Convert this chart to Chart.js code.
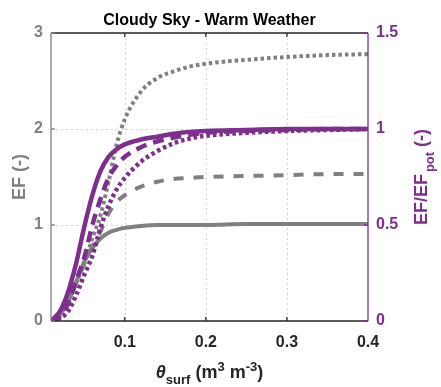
<!DOCTYPE html>
<html>
<head>
<meta charset="utf-8">
<script src="https://cdn.jsdelivr.net/npm/chart.js@4/dist/chart.umd.min.js"></script>
<style>
  html, body { margin: 0; padding: 0; background: #ffffff; }
  #wrap { width: 441px; height: 387px; position: relative; }
</style>
</head>
<body>
<div id="wrap"><canvas id="c" width="441" height="387"></canvas></div>
<script>
// ---- data ----
const thetaSurf = [0.009, 0.02, 0.03, 0.04, 0.05, 0.06, 0.07, 0.08, 0.09, 0.10, 0.12, 0.14, 0.16, 0.18, 0.20, 0.25, 0.30, 0.35, 0.40];

// EF (left axis, gray)
const efSolid  = [0, 0.07, 0.20, 0.40, 0.62, 0.76, 0.86, 0.92, 0.95, 0.97, 0.99, 1.00, 1.00, 1.00, 1.00, 1.01, 1.01, 1.01, 1.01];
const efDashed = [0, 0.07, 0.20, 0.40, 0.60, 0.78, 0.93, 1.12, 1.24, 1.31, 1.40, 1.45, 1.48, 1.49, 1.50, 1.51, 1.52, 1.53, 1.53];
const efDotted = [0, 0.07, 0.20, 0.40, 0.60, 0.86, 1.10, 1.45, 1.84, 2.10, 2.39, 2.53, 2.60, 2.65, 2.68, 2.72, 2.75, 2.77, 2.78];

// EF/EFpot (right axis, purple)
const ratioSolid  = [0, 0.05, 0.15, 0.30, 0.49, 0.655, 0.78, 0.855, 0.895, 0.92, 0.945, 0.96, 0.975, 0.985, 0.99, 0.995, 1.0, 1.0, 1.0];
const ratioDashed = [0, 0.025, 0.09, 0.21, 0.33, 0.50, 0.635, 0.745, 0.81, 0.855, 0.905, 0.935, 0.955, 0.97, 0.98, 0.99, 0.995, 1.0, 1.0];
const ratioDotted = [0, 0.015, 0.05, 0.135, 0.24, 0.34, 0.485, 0.60, 0.685, 0.745, 0.83, 0.885, 0.925, 0.95, 0.965, 0.98, 0.99, 0.995, 1.0];

const xTicks = [0.1, 0.2, 0.3, 0.4];
const xTickLabels = ['0.1', '0.2', '0.3', '0.4'];
const yLeftTicks = [0, 1, 2, 3];
const yLeftTickLabels = ['0', '1', '2', '3'];
const yRightTicks = [0, 0.5, 1, 1.5];
const yRightTickLabels = ['0', '0.5', '1', '1.5'];

const titleText = 'Cloudy Sky - Warm Weather';

// ---- styling ----
const GRAY = '#808080';
const PURPLE = '#7E2F8E';
const DARK = '#262626';
const FONT = '"Liberation Sans", Arial, Helvetica, sans-serif';

function pts(ys) { return thetaSurf.map((x, i) => ({ x: x, y: ys[i] })); }

function ds(label, ys, color, width, dash, axis) {
  return {
    label: label, data: pts(ys), yAxisID: axis,
    borderColor: color, backgroundColor: color, borderWidth: width,
    borderDash: dash, borderCapStyle: 'butt', borderJoinStyle: 'round',
    pointRadius: 0, pointHoverRadius: 0, fill: false,
    cubicInterpolationMode: 'monotone'
  };
}

const decor = {
  id: 'decor',
  beforeDatasetsDraw(chart) {
    const ctx = chart.ctx, a = chart.chartArea;
    const sx = chart.scales.x, yl = chart.scales.y;
    ctx.save();
    ctx.strokeStyle = '#d4d4d4';
    ctx.lineWidth = 1;
    ctx.setLineDash([2, 3]);
    xTicks.forEach(v => {
      const px = Math.round(sx.getPixelForValue(v)) + 0.5;
      if (px > a.right - 2) return;
      ctx.beginPath(); ctx.moveTo(px, a.top); ctx.lineTo(px, a.bottom); ctx.stroke();
    });
    yLeftTicks.forEach(v => {
      const py = Math.round(yl.getPixelForValue(v)) + 0.5;
      if (py < a.top + 2 || py > a.bottom - 2) return;
      ctx.beginPath(); ctx.moveTo(a.left, py); ctx.lineTo(a.right, py); ctx.stroke();
    });
    ctx.restore();
  },
  afterDatasetsDraw(chart) {
    const ctx = chart.ctx, a = chart.chartArea;
    const sx = chart.scales.x, yl = chart.scales.y, yr = chart.scales.y2;
    ctx.save();
    ctx.setLineDash([]);
    ctx.lineWidth = 1.3;
    ctx.strokeStyle = DARK;
    ctx.beginPath(); ctx.moveTo(a.left, a.top); ctx.lineTo(a.right, a.top); ctx.stroke();
    ctx.beginPath(); ctx.moveTo(a.left, a.bottom); ctx.lineTo(a.right, a.bottom); ctx.stroke();
    xTicks.forEach(v => {
      const px = sx.getPixelForValue(v);
      if (px > a.right - 2) return;
      ctx.beginPath(); ctx.moveTo(px, a.bottom); ctx.lineTo(px, a.bottom - 4); ctx.stroke();
      ctx.beginPath(); ctx.moveTo(px, a.top); ctx.lineTo(px, a.top + 4); ctx.stroke();
    });
    ctx.strokeStyle = GRAY;
    ctx.beginPath(); ctx.moveTo(a.left, a.top); ctx.lineTo(a.left, a.bottom); ctx.stroke();
    yLeftTicks.forEach(v => {
      const py = yl.getPixelForValue(v);
      ctx.beginPath(); ctx.moveTo(a.left, py); ctx.lineTo(a.left + 4, py); ctx.stroke();
    });
    ctx.strokeStyle = PURPLE;
    ctx.beginPath(); ctx.moveTo(a.right, a.top); ctx.lineTo(a.right, a.bottom); ctx.stroke();
    yRightTicks.forEach(v => {
      const py = yr.getPixelForValue(v);
      ctx.beginPath(); ctx.moveTo(a.right, py); ctx.lineTo(a.right - 4, py); ctx.stroke();
    });

    // title
    ctx.fillStyle = '#000000';
    ctx.font = 'bold 16px ' + FONT;
    ctx.textAlign = 'center';
    ctx.textBaseline = 'alphabetic';
    ctx.fillText(titleText, (a.left + a.right) / 2, 25);

    // left axis title: EF (-)
    ctx.save();
    ctx.translate(25, 177);
    ctx.rotate(-Math.PI / 2);
    ctx.fillStyle = GRAY;
    ctx.font = 'bold 18px ' + FONT;
    ctx.textAlign = 'center';
    ctx.textBaseline = 'alphabetic';
    ctx.fillText('EF (-)', 0, 0);
    ctx.restore();

    // right axis title: EF/EF_pot (-)
    ctx.save();
    ctx.translate(427, 177);
    ctx.rotate(-Math.PI / 2);
    ctx.fillStyle = PURPLE;
    const bigF = 'bold 18px ' + FONT, smallF = 'bold 13px ' + FONT;
    ctx.font = bigF; const w1 = ctx.measureText('EF/EF').width; const w3 = ctx.measureText(' (-)').width;
    ctx.font = smallF; const w2 = ctx.measureText('pot').width;
    const gap = 2;
    let x0 = -(w1 + gap + w2 + w3) / 2;
    ctx.textAlign = 'left'; ctx.textBaseline = 'alphabetic';
    ctx.font = bigF; ctx.fillText('EF/EF', x0, 0); x0 += w1 + gap;
    ctx.font = smallF; ctx.fillText('pot', x0, 7); x0 += w2;
    ctx.font = bigF; ctx.fillText(' (-)', x0, 0);
    ctx.restore();

    // x axis title: θ_surf (m³ m⁻³)
    ctx.save();
    ctx.fillStyle = DARK;
    ctx.textAlign = 'left'; ctx.textBaseline = 'alphabetic';
    const parts = [
      { t: 'θ', f: 'italic bold 18px ' + FONT, dy: 0 },
      { t: 'surf', f: 'bold 13px ' + FONT, dy: 6 },
      { t: ' (m', f: 'bold 18px ' + FONT, dy: 0 },
      { t: '3', f: 'bold 13px ' + FONT, dy: -7 },
      { t: ' m', f: 'bold 18px ' + FONT, dy: 0 },
      { t: '-3', f: 'bold 13px ' + FONT, dy: -7 },
      { t: ')', f: 'bold 18px ' + FONT, dy: 0 }
    ];
    let tw = 0;
    parts.forEach(p => { ctx.font = p.f; p.w = ctx.measureText(p.t).width; tw += p.w; });
    let xx = (a.left + a.right) / 2 - tw / 2;
    parts.forEach(p => { ctx.font = p.f; ctx.fillText(p.t, xx, 378 + p.dy); xx += p.w; });
    ctx.restore();

    ctx.restore();
  }
};

const chart = new Chart(document.getElementById('c'), {
  type: 'line',
  data: {
    datasets: [
      ds('EF/EFpot solid', ratioSolid, PURPLE, 4.5, [], 'y2'),
      ds('EF/EFpot dashed', ratioDashed, PURPLE, 4.5, [11, 7], 'y2'),
      ds('EF/EFpot dotted', ratioDotted, PURPLE, 4.5, [3.5, 3], 'y2'),
      ds('EF solid', efSolid, GRAY, 4, [], 'y'),
      ds('EF dashed', efDashed, GRAY, 4, [10, 10], 'y'),
      ds('EF dotted', efDotted, GRAY, 4, [3.5, 3], 'y')
    ]
  },
  options: {
    responsive: false,
    animation: false,
    events: [],
    layout: { padding: { top: 33, left: 0, right: 0, bottom: 0 } },
    plugins: { legend: { display: false }, tooltip: { enabled: false }, title: { display: false } },
    scales: {
      x: {
        type: 'linear', position: 'bottom', min: 0.009, max: 0.4,
        afterFit: s => { s.height = 66; },
        afterBuildTicks: s => { s.ticks = xTicks.map(v => ({ value: v })); },
        grid: { display: false, drawTicks: false },
        border: { display: false },
        ticks: {
          padding: 12, color: DARK, font: { family: FONT, size: 16, weight: 'bold' },
          maxRotation: 0, autoSkip: false,
          callback: (v) => xTickLabels[xTicks.indexOf(v)]
        }
      },
      y: {
        type: 'linear', position: 'left', min: 0, max: 3,
        afterFit: s => { s.width = 51; },
        afterBuildTicks: s => { s.ticks = yLeftTicks.map(v => ({ value: v })); },
        grid: { display: false, drawTicks: false },
        border: { display: false },
        ticks: {
          padding: 8, color: GRAY, font: { family: FONT, size: 16, weight: 'bold' },
          callback: (v) => yLeftTickLabels[yLeftTicks.indexOf(v)]
        }
      },
      y2: {
        type: 'linear', position: 'right', min: 0, max: 1.5,
        afterFit: s => { s.width = 73; },
        afterBuildTicks: s => { s.ticks = yRightTicks.map(v => ({ value: v })); },
        grid: { display: false, drawTicks: false },
        border: { display: false },
        ticks: {
          padding: 8, color: PURPLE, font: { family: FONT, size: 16, weight: 'bold' },
          callback: (v) => yRightTickLabels[yRightTicks.indexOf(v)]
        }
      }
    }
  },
  plugins: [decor]
});
</script>
</body>
</html>
